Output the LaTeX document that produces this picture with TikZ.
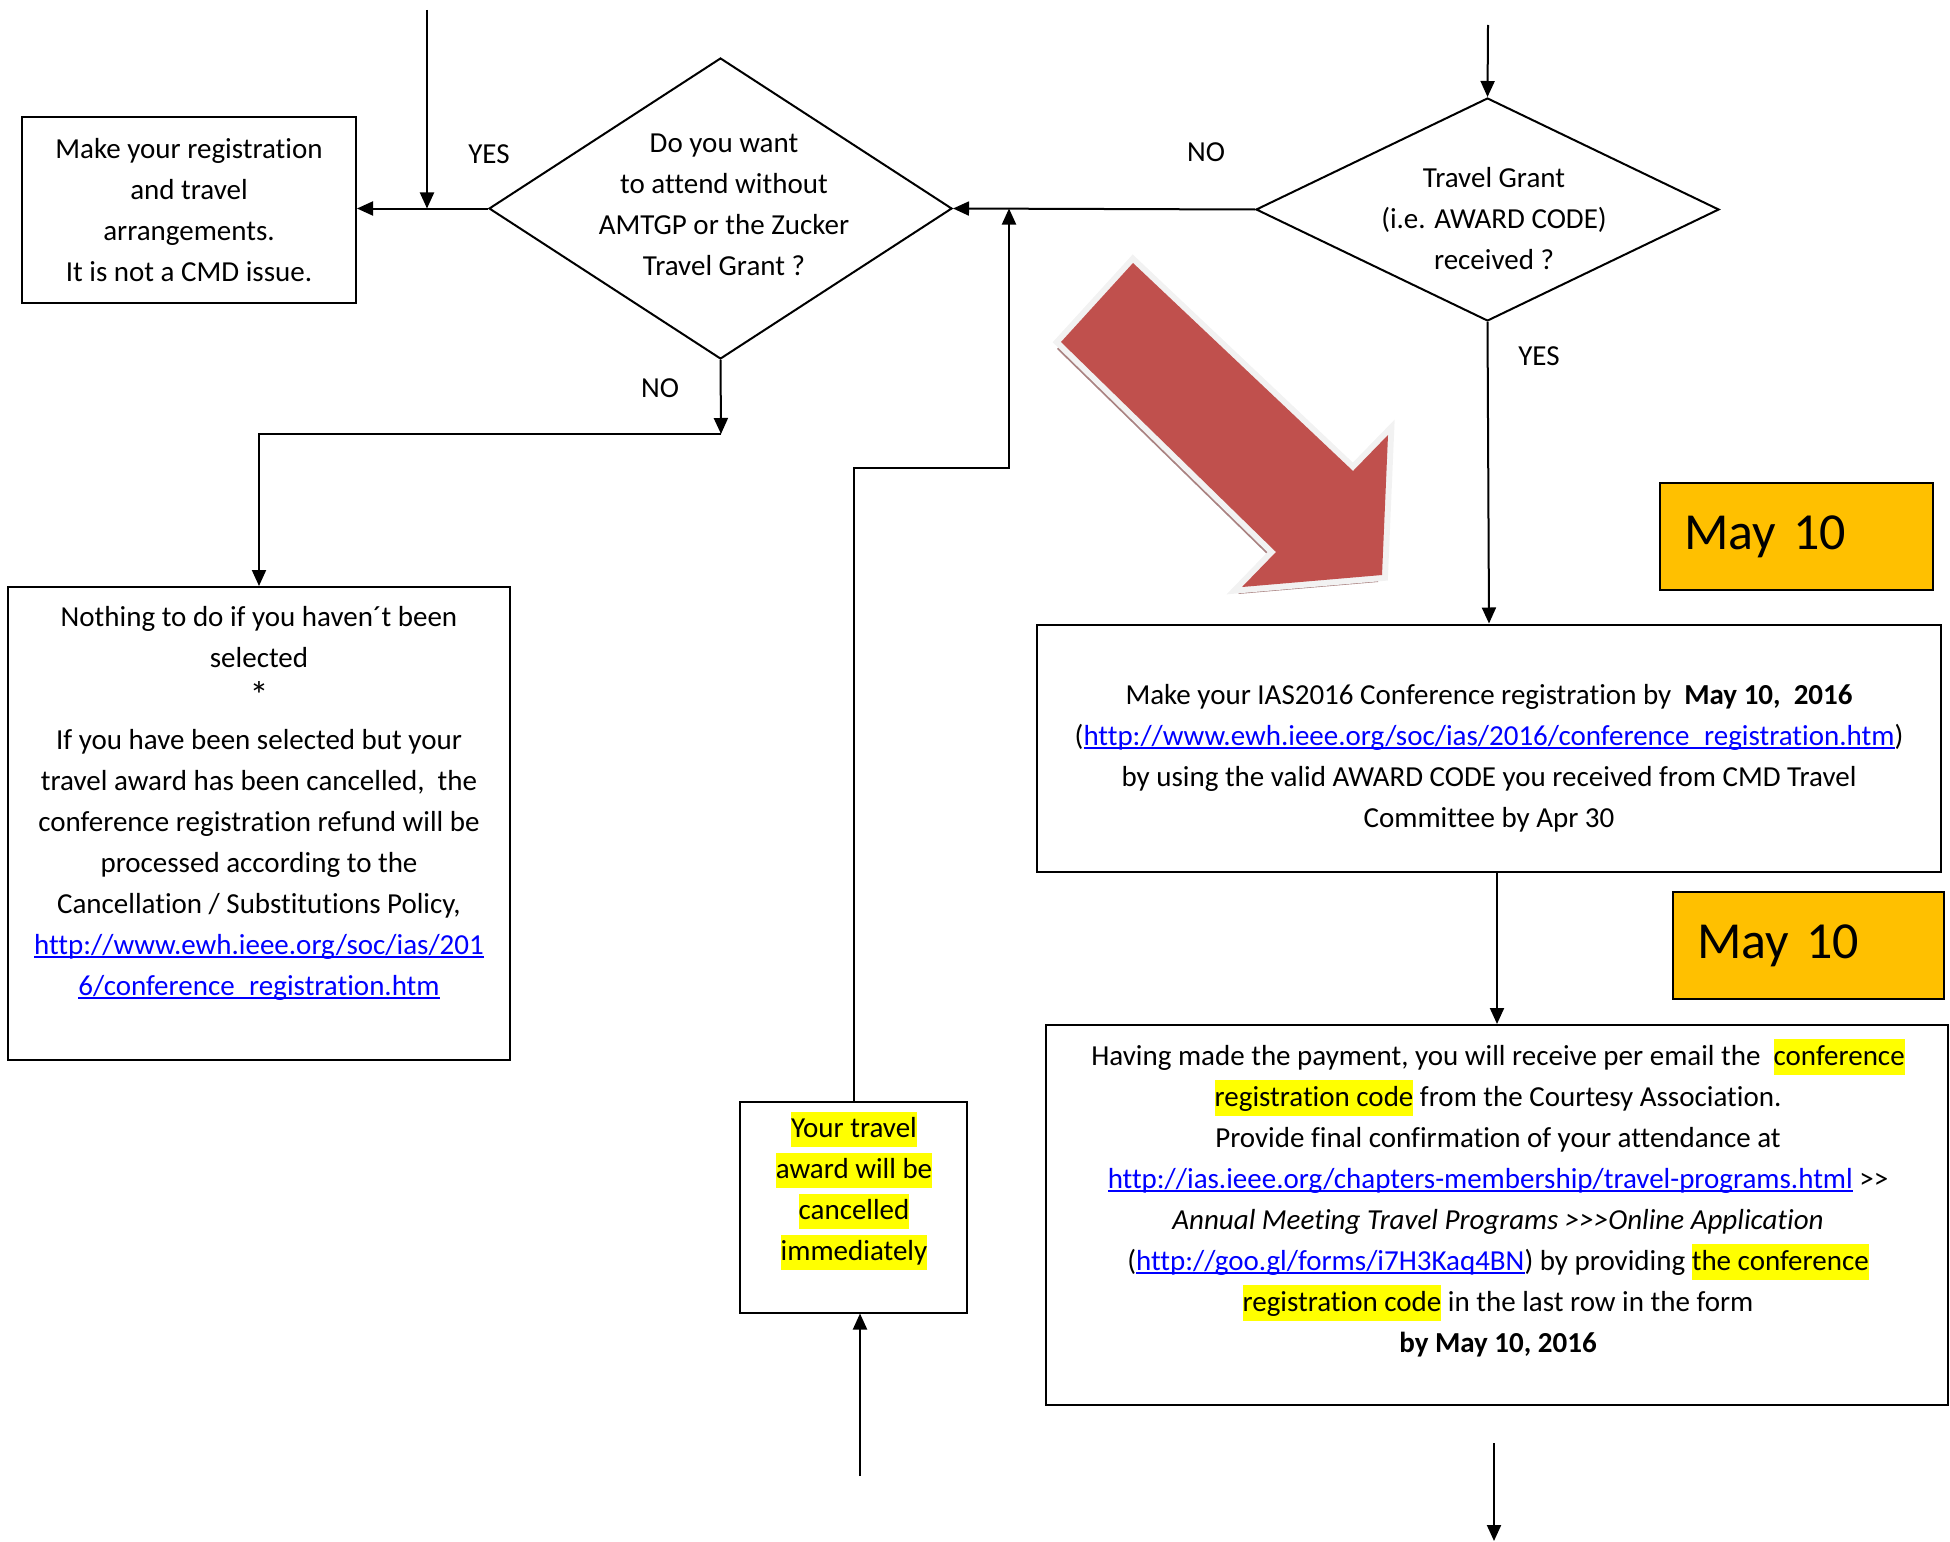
\documentclass[tikz,border=0pt]{standalone}
\usepackage{fontspec}
\setmainfont{Carlito}[Ligatures={NoCommon}]
\usetikzlibrary{arrows.meta,shapes.geometric}
\definecolor{linkblue}{HTML}{0000FF}
\definecolor{hlyellow}{HTML}{FFFF00}
\definecolor{dategold}{HTML}{FFC000}
\definecolor{arrowred}{HTML}{C0504D}
\definecolor{arrowrim}{HTML}{F2F2F2}
\definecolor{arrowshade}{HTML}{A98281}
\newcommand\hlt[1]{{\setlength{\fboxsep}{0pt}\colorbox{hlyellow}{\rule[-0.34em]{0pt}{1.24em}#1}}}
\newsavebox\lnkbox
\newcommand\lnk[1]{{\color{linkblue}\sbox\lnkbox{#1}\rlap{\rule[-0.13em]{\wd\lnkbox}{0.06em}}\usebox\lnkbox}}

\begin{document}
\begin{tikzpicture}[x=1pt, y=-1pt, line width=2pt,
    arr/.style={-{Triangle[length=16pt, width=14pt]}},
    box/.style={draw, rectangle, inner sep=0pt},
    decision/.style={draw, diamond, inner sep=0pt},
    txt/.style={align=center, inner sep=0pt, font=\fontsize{29}{41}\selectfont},
    datebox/.style={draw, fill=dategold, inner xsep=24pt, inner ysep=0pt, align=left, font=\fontsize{52}{60}\selectfont}]
    \useasboundingbox (0, 0) rectangle (1950, 1541);

    \fill[arrowshade] (1129, 270) -- (1057, 349) -- (1272, 559) -- (1238, 594) -- (1378, 582) -- (1384, 442) -- (1349, 478) -- cycle;
    \fill[arrowred, preaction={draw=arrowrim, line width=12pt, line join=miter}]
        (1133, 263) -- (1061, 342) -- (1276, 552) -- (1242, 587) -- (1382, 575) -- (1388, 435) -- (1353, 471) -- cycle;

    \node[box, txt, minimum width=334pt, minimum height=185pt] (b1) at (189, 210) {Make your registration\\and travel\\arrangements.\\It is not a CMD issue.};
    \node[decision, minimum width=463pt, minimum height=301pt] (d1) at (720.5, 208.5) {};
    \node[txt] (d1t) at (724, 205) {Do you want\\to attend without\\AMTGP or the Zucker\\Travel Grant ?};
    \node[decision, minimum width=463pt, minimum height=223pt] (d2) at (1487.5, 209.5) {};
    \node[txt] (d2t) at (1494, 219) {Travel Grant\\(i.e. AWARD CODE)\\received ?};

    \node[box, minimum width=502pt, minimum height=473pt] (b2) at (259, 823.5) {};
    \node[txt] (b2t) at (259, 803) {Nothing to do if you haven´t been\\selected\\{\fontsize{38}{41}\selectfont *}\\If you have been selected but your\\travel award has been cancelled,~ the\\conference registration refund will be\\processed according to the\\Cancellation / Substitutions Policy,\\\lnk{http://www.ewh.ieee.org/soc/ias/201}\\\lnk{6/conference\_registration.htm}};
    \node[box, minimum width=227pt, minimum height=211pt] (b3) at (853.5, 1207) {};
    \node[txt] (b3t) at (854, 1191) {\hlt{Your travel}\\\hlt{award will be}\\\hlt{cancelled}\\\hlt{immediately}};
    \node[box, minimum width=904pt, minimum height=247pt] (b4) at (1489, 748) {};
    \node[txt] (b4t) at (1489, 758) {Make your IAS2016 Conference registration by~ \textbf{May 10,~ 2016}\\(\lnk{http://www.ewh.ieee.org/soc/ias/2016/conference\_registration.htm})\\by using the valid AWARD CODE you received from CMD Travel\\Committee by Apr 30};
    \node[box, minimum width=902pt, minimum height=380pt] (b5) at (1497, 1215) {};
    \node[txt] (b5t) at (1498, 1198) {Having made the payment, you will receive per email the~ \hlt{conference}\\\hlt{registration code} from the Courtesy Association.\\Provide final confirmation of your attendance at\\\lnk{http://ias.ieee.org/chapters-membership/travel-programs.html} >{}>\\\textit{Annual Meeting Travel Programs >{}>{}>Online Application}\\(\lnk{http://goo.gl/forms/i7H3Kaq4BN}) by providing \hlt{the conference}\\\hlt{registration code} in the last row in the form\\\textbf{by May 10, 2016}};

    \node[datebox, text width=225pt, minimum height=107pt] (m1) at (1796.5, 536.5) {May 10};
    \node[datebox, text width=223pt, minimum height=107pt] (m2) at (1808.5, 945.5) {May 10};

    \node[txt] (yes1) at (489, 154) {YES};
    \node[txt] (no1) at (660, 388) {NO};
    \node[txt] (no2) at (1206, 152) {NO};
    \node[txt] (yes2) at (1539, 356) {YES};

    \coordinate (in1) at (427, 10);
    \coordinate (in2) at (1488, 25);
    \coordinate (in3) at (860, 1476);
    \coordinate (j1) at (721, 434);
    \coordinate (k1) at (1009, 468);
    \coordinate (out1) at (1494, 1443);
    \coordinate (out2) at (1494, 1541);

    \draw[arr] (in1) -- (in1 |- d1.west);
    \draw[arr] (d1.west) -- (b1.east |- d1.west);
    \draw[arr] (d1.south) -- (j1);
    \draw[arr] (j1) -| (b2.north);
    \draw[arr] (in2) -- (d2.north);
    \draw[arr] (d2.west) -- (d1.east);
    \draw[arr] (d2.south) -- (b4.north);
    \draw[arr] (b5.north |- b4.south) -- (b5.north);
    \draw[arr] (b3.north) |- (k1) -- (k1 |- d1.east);
    \draw[arr] (in3) -- (in3 |- b3.south);
    \draw[arr] (out1) -- (out2);
\end{tikzpicture}
\end{document}
